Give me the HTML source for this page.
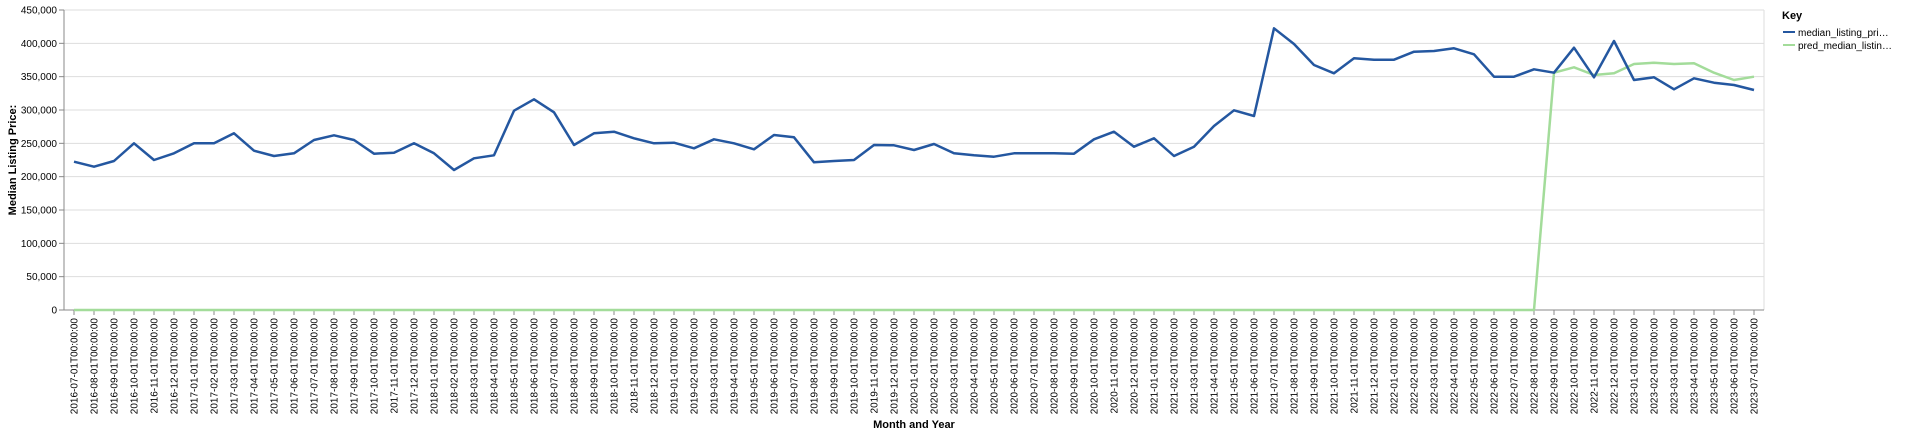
<!DOCTYPE html>
<html><head><meta charset="utf-8"><style>
html,body{margin:0;padding:0;background:#fff;}
svg{display:block;font-family:"Liberation Sans",Arial,sans-serif;}
</style></head><body>
<svg id="chart" width="1920" height="434" viewBox="0 0 1920 434" xmlns="http://www.w3.org/2000/svg">
<g id="grid"></g>
<g id="yaxis"></g>
<g id="xaxis"></g>
<g id="series"></g>
<text transform="translate(16,160) rotate(-90)" text-anchor="middle" font-size="11" font-weight="bold" fill="#000">Median Listing Price:</text>
<text x="914" y="428" text-anchor="middle" font-size="11" font-weight="bold" fill="#000">Month and Year</text>
<g>
<text x="1782" y="19" font-size="11" font-weight="bold" fill="#000">Key</text>
<g>
<line x1="1783" y1="32" x2="1795" y2="32" stroke="#2457a0" stroke-width="2"/>
<text x="1798" y="36" font-size="10" fill="#000">median_listing_pri…</text></g>
<g>
<line x1="1783" y1="45" x2="1795" y2="45" stroke="#a3dc9a" stroke-width="2"/>
<text x="1798" y="49" font-size="10" fill="#000">pred_median_listin…</text></g>
</g>
</svg>
<script>
const startYear = 2016, startMonth = 7, monthCount = 85;
const actualValues = [222500,215000,223500,250000,225000,235000,250000,250000,265000,239000,231000,235000,255000,262000,255000,234500,236000,250000,235000,210000,227500,232000,299000,316000,296500,247500,265000,267500,257500,250000,251000,242500,256000,250000,241000,262500,259000,221500,223500,225000,247500,247000,240000,249000,235000,232000,230000,235000,235000,235000,234500,256000,267500,245000,257500,231000,245000,276000,299500,291000,422500,399000,367500,355000,377500,375500,375500,387500,388500,392500,383500,350000,350000,361000,356000,393500,349000,403500,345000,349000,331000,347500,341000,337500,330000];
const predTail = [356000,364000,352500,355000,369000,371000,369000,370000,356000,345000,350000];
const predValues = Array(74).fill(0).concat(predTail);
const yTicks = [0,50000,100000,150000,200000,250000,300000,350000,400000,450000];
const categories = [];
for (let i=0;i<monthCount;i++){const m=(startMonth-1+i)%12+1, y=startYear+Math.floor((startMonth-1+i)/12);categories.push(y+'-'+String(m).padStart(2,'0')+'-01T00:00:00');}
const NS='http://www.w3.org/2000/svg';
const L=64,R=1764,T=10,B=310,yMax=450000;
const band=(R-L)/categories.length;
const xs=i=>L+band*(i+0.5);
const ys=v=>B-(v/yMax)*(B-T);
function mk(tag,attrs,parent){const e=document.createElementNS(NS,tag);for(const k in attrs)e.setAttribute(k,attrs[k]);parent.appendChild(e);return e;}
const grid=document.getElementById('grid'),ya=document.getElementById('yaxis'),xa=document.getElementById('xaxis'),ser=document.getElementById('series');
yTicks.forEach(v=>{const y=ys(v);
 const g=mk('line',{x1:L,x2:R,y1:y,y2:y,stroke:'#ddd','stroke-width':1},grid);
 
 
 mk('line',{x1:L-5,x2:L,y1:y,y2:y,stroke:'#888'},ya);
 const t=mk('text',{x:L-7,y:y+3.5,'text-anchor':'end','font-size':10,fill:'#000'},ya);
 
 
 t.textContent=v.toLocaleString('en-US');});
mk('line',{x1:R,x2:R,y1:T,y2:B,stroke:'#ddd'},grid);
mk('line',{x1:L,x2:L,y1:T,y2:B,stroke:'#888'},ya);
mk('line',{x1:L,x2:R,y1:B,y2:B,stroke:'#888'},xa);
categories.forEach((c,i)=>{const x=xs(i);
 mk('line',{x1:x,x2:x,y1:B,y2:B+5,stroke:'#888'},xa);
 const t=mk('text',{transform:'translate('+(x+3.5)+','+(B+8)+') rotate(-90)','text-anchor':'end','font-size':10,fill:'#000'},xa);
 
 
 t.textContent=c;});
function line(vals,color,name){const d=vals.map((v,i)=>(i?'L':'M')+xs(i).toFixed(1)+','+ys(v).toFixed(1)).join('');
 const p=mk('path',{d:d,fill:'none',stroke:color,'stroke-width':2.5,'stroke-linejoin':'round'},ser);
 
 }
line(predValues,'#a3dc9a','pred-median-listing-price-line');
line(actualValues,'#2457a0','median-listing-price-line');
</script>
</body></html>
